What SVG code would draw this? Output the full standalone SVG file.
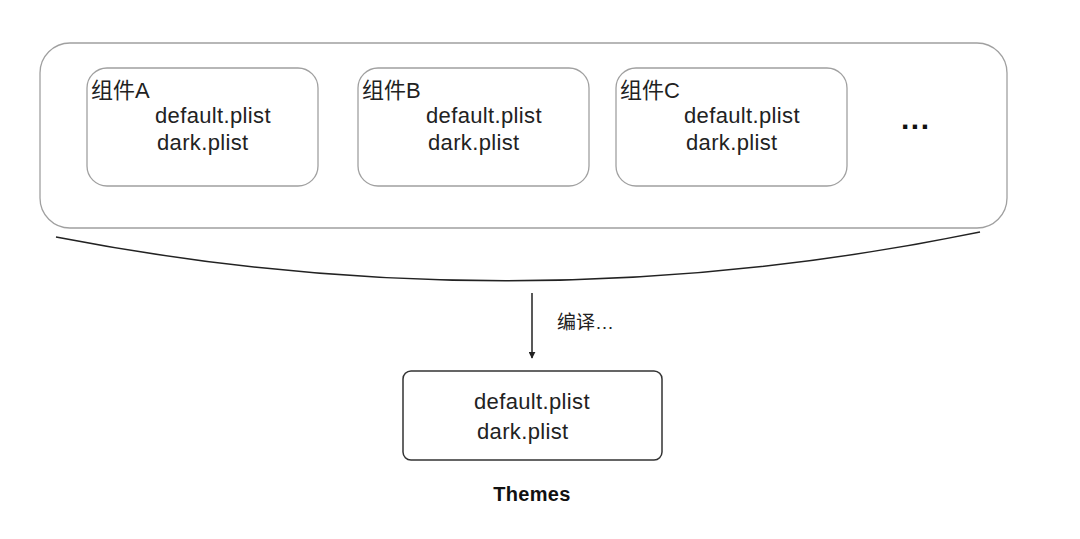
<svg xmlns="http://www.w3.org/2000/svg" width="1080" height="539" viewBox="0 0 1080 539">
<defs>
<style>
.t{font-family:"Liberation Sans","Noto Sans CJK SC",sans-serif;font-size:22px;letter-spacing:0.35px;fill:#222}
.box{fill:#fff;stroke:#a0a0a0;stroke-width:1.3}
.conn{fill:none;stroke:#222;stroke-width:1.5}
</style>
<marker id="ah" viewBox="0 0 10 10" refX="9" refY="5" markerWidth="7" markerHeight="7" orient="auto" markerUnits="userSpaceOnUse">
<path d="M0,0 L10,5 L0,10 z" fill="#222"/>
</marker>
</defs>
<rect width="1080" height="539" fill="#fff"/>
<g id="outer">
<rect class="box" x="40" y="43" width="967" height="185" rx="30"/>
</g>
<g id="compA">
<rect class="box" x="87" y="68" width="231" height="118" rx="20"/>
<text class="t" x="91" y="98" style="letter-spacing:0">组件A</text>
<text class="t" x="155" y="123">default.plist</text>
<text class="t" x="157" y="150">dark.plist</text>
</g>
<g id="compB">
<rect class="box" x="358" y="68" width="231" height="118" rx="20"/>
<text class="t" x="362" y="98" style="letter-spacing:0">组件B</text>
<text class="t" x="426" y="123">default.plist</text>
<text class="t" x="428" y="150">dark.plist</text>
</g>
<g id="compC">
<rect class="box" x="616" y="68" width="231" height="118" rx="20"/>
<text class="t" x="620" y="98" style="letter-spacing:0">组件C</text>
<text class="t" x="684" y="123">default.plist</text>
<text class="t" x="686" y="150">dark.plist</text>
</g>
<g id="more">
<text x="901" y="129" style="font-family:'Liberation Sans',sans-serif;font-size:30px;font-weight:bold;letter-spacing:1.5px;fill:#111">...</text>
</g>
<g id="connectors">
<path class="conn" d="M56,237 Q518,327 980,232"/>
<line class="conn" x1="532" y1="293" x2="532" y2="358" marker-end="url(#ah)"/>
<text class="t" x="557" y="329" style="font-size:19px;letter-spacing:0">编译…</text>
</g>
<g id="themes">
<rect x="403" y="371" width="259" height="89" rx="8" fill="#fff" stroke="#333" stroke-width="1.5"/>
<text class="t" x="474" y="409">default.plist</text>
<text class="t" x="477" y="439">dark.plist</text>
<text x="532" y="501" text-anchor="middle" style="font-family:'Liberation Sans',sans-serif;font-size:20px;font-weight:bold;letter-spacing:0.3px;fill:#111">Themes</text>
</g>
</svg>
